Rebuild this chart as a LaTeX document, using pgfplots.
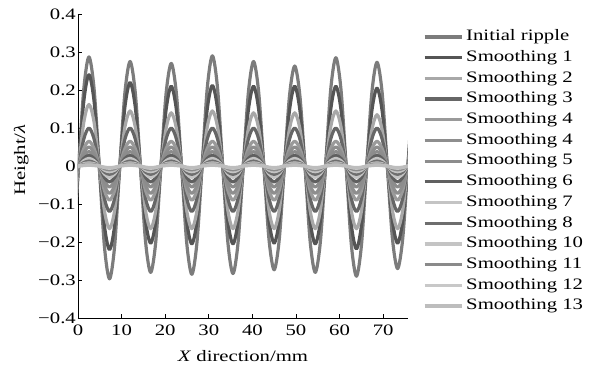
\documentclass[border=0pt]{standalone}
\usepackage{fontspec}
\setmainfont{Liberation Serif}[FakeStretch=1.3]
\usepackage{pgfplots}
\pgfplotsset{compat=1.18}
\usepackage{pgfplotstable}

\definecolor{c0}{HTML}{7C7C7C}
\definecolor{c1}{HTML}{555555}
\definecolor{c2}{HTML}{A8A8A8}
\definecolor{c3}{HTML}{666666}
\definecolor{c4}{HTML}{9A9A9A}
\definecolor{c5}{HTML}{8E8E8E}
\definecolor{c6}{HTML}{8C8C8C}
\definecolor{c7}{HTML}{606060}
\definecolor{c8}{HTML}{C4C4C4}
\definecolor{c9}{HTML}{6E6E6E}
\definecolor{c10}{HTML}{C4C4C4}
\definecolor{c11}{HTML}{8A8A8A}
\definecolor{c12}{HTML}{C8C8C8}
\definecolor{c13}{HTML}{BDBDBD}

\pgfplotstableread{
x s0 s1 s2 s3 s4 s5 s6 s7 s8 s9 s10 s11 s12 s13
-1.03 -0.210 -0.156 -0.117 -0.085 -0.064 -0.051 -0.039 -0.030 -0.021 -0.016 -0.011 -0.007 -0.004 -0.003
0.15 0 0 0 0 0 0 0 0 0 0 0 0 0 0
1.33 0.203 0.170 0.115 0.071 0.046 0.035 0.027 0.020 0.014 0.009 0.006 0.004 0.002 0.001
2.51 0.287 0.240 0.162 0.100 0.065 0.050 0.038 0.028 0.020 0.013 0.008 0.005 0.003 0.002
3.69 0.203 0.170 0.115 0.071 0.046 0.035 0.027 0.020 0.014 0.009 0.006 0.004 0.002 0.001
4.87 0 0 0 0 0 0 0 0 0 0 0 0 0 0
6.05 -0.210 -0.156 -0.117 -0.085 -0.064 -0.051 -0.039 -0.030 -0.021 -0.016 -0.011 -0.007 -0.004 -0.003
7.23 -0.297 -0.220 -0.165 -0.120 -0.090 -0.072 -0.055 -0.042 -0.030 -0.022 -0.015 -0.010 -0.006 -0.004
8.41 -0.210 -0.156 -0.117 -0.085 -0.064 -0.051 -0.039 -0.030 -0.021 -0.016 -0.011 -0.007 -0.004 -0.003
9.59 0 0 0 0 0 0 0 0 0 0 0 0 0 0
10.77 0.194 0.156 0.103 0.071 0.046 0.035 0.027 0.020 0.014 0.009 0.006 0.004 0.002 0.001
11.95 0.275 0.220 0.145 0.100 0.065 0.050 0.038 0.028 0.020 0.013 0.008 0.005 0.003 0.002
13.13 0.194 0.156 0.103 0.071 0.046 0.035 0.027 0.020 0.014 0.009 0.006 0.004 0.002 0.001
14.31 0 0 0 0 0 0 0 0 0 0 0 0 0 0
15.49 -0.198 -0.144 -0.117 -0.085 -0.064 -0.051 -0.039 -0.030 -0.021 -0.016 -0.011 -0.007 -0.004 -0.003
16.67 -0.280 -0.203 -0.165 -0.120 -0.090 -0.072 -0.055 -0.042 -0.030 -0.022 -0.015 -0.010 -0.006 -0.004
17.85 -0.198 -0.144 -0.117 -0.085 -0.064 -0.051 -0.039 -0.030 -0.021 -0.016 -0.011 -0.007 -0.004 -0.003
19.03 0 0 0 0 0 0 0 0 0 0 0 0 0 0
20.21 0.191 0.148 0.099 0.071 0.046 0.035 0.027 0.020 0.014 0.009 0.006 0.004 0.002 0.001
21.39 0.270 0.210 0.140 0.100 0.065 0.050 0.038 0.028 0.020 0.013 0.008 0.005 0.003 0.002
22.57 0.191 0.148 0.099 0.071 0.046 0.035 0.027 0.020 0.014 0.009 0.006 0.004 0.002 0.001
23.75 0 0 0 0 0 0 0 0 0 0 0 0 0 0
24.93 -0.201 -0.145 -0.117 -0.085 -0.064 -0.051 -0.039 -0.030 -0.021 -0.016 -0.011 -0.007 -0.004 -0.003
26.11 -0.285 -0.205 -0.165 -0.120 -0.090 -0.072 -0.055 -0.042 -0.030 -0.022 -0.015 -0.010 -0.006 -0.004
27.29 -0.201 -0.145 -0.117 -0.085 -0.064 -0.051 -0.039 -0.030 -0.021 -0.016 -0.011 -0.007 -0.004 -0.003
28.47 0 0 0 0 0 0 0 0 0 0 0 0 0 0
29.65 0.205 0.150 0.103 0.071 0.046 0.035 0.027 0.020 0.014 0.009 0.006 0.004 0.002 0.001
30.83 0.290 0.212 0.145 0.100 0.065 0.050 0.038 0.028 0.020 0.013 0.008 0.005 0.003 0.002
32.01 0.205 0.150 0.103 0.071 0.046 0.035 0.027 0.020 0.014 0.009 0.006 0.004 0.002 0.001
33.19 0 0 0 0 0 0 0 0 0 0 0 0 0 0
34.37 -0.200 -0.145 -0.117 -0.085 -0.064 -0.051 -0.039 -0.030 -0.021 -0.016 -0.011 -0.007 -0.004 -0.003
35.55 -0.283 -0.205 -0.165 -0.120 -0.090 -0.072 -0.055 -0.042 -0.030 -0.022 -0.015 -0.010 -0.006 -0.004
36.73 -0.200 -0.145 -0.117 -0.085 -0.064 -0.051 -0.039 -0.030 -0.021 -0.016 -0.011 -0.007 -0.004 -0.003
37.91 0 0 0 0 0 0 0 0 0 0 0 0 0 0
39.09 0.194 0.148 0.099 0.071 0.046 0.035 0.027 0.020 0.014 0.009 0.006 0.004 0.002 0.001
40.27 0.275 0.210 0.140 0.100 0.065 0.050 0.038 0.028 0.020 0.013 0.008 0.005 0.003 0.002
41.45 0.194 0.148 0.099 0.071 0.046 0.035 0.027 0.020 0.014 0.009 0.006 0.004 0.002 0.001
42.63 0 0 0 0 0 0 0 0 0 0 0 0 0 0
43.81 -0.193 -0.144 -0.117 -0.085 -0.064 -0.051 -0.039 -0.030 -0.021 -0.016 -0.011 -0.007 -0.004 -0.003
44.99 -0.273 -0.203 -0.165 -0.120 -0.090 -0.072 -0.055 -0.042 -0.030 -0.022 -0.015 -0.010 -0.006 -0.004
46.17 -0.193 -0.144 -0.117 -0.085 -0.064 -0.051 -0.039 -0.030 -0.021 -0.016 -0.011 -0.007 -0.004 -0.003
47.35 0 0 0 0 0 0 0 0 0 0 0 0 0 0
48.53 0.186 0.148 0.099 0.071 0.046 0.035 0.027 0.020 0.014 0.009 0.006 0.004 0.002 0.001
49.71 0.263 0.210 0.140 0.100 0.065 0.050 0.038 0.028 0.020 0.013 0.008 0.005 0.003 0.002
50.89 0.186 0.148 0.099 0.071 0.046 0.035 0.027 0.020 0.014 0.009 0.006 0.004 0.002 0.001
52.07 0 0 0 0 0 0 0 0 0 0 0 0 0 0
53.25 -0.198 -0.145 -0.117 -0.085 -0.064 -0.051 -0.039 -0.030 -0.021 -0.016 -0.011 -0.007 -0.004 -0.003
54.43 -0.280 -0.205 -0.165 -0.120 -0.090 -0.072 -0.055 -0.042 -0.030 -0.022 -0.015 -0.010 -0.006 -0.004
55.61 -0.198 -0.145 -0.117 -0.085 -0.064 -0.051 -0.039 -0.030 -0.021 -0.016 -0.011 -0.007 -0.004 -0.003
56.79 0 0 0 0 0 0 0 0 0 0 0 0 0 0
57.97 0.201 0.148 0.103 0.071 0.046 0.035 0.027 0.020 0.014 0.009 0.006 0.004 0.002 0.001
59.15 0.285 0.210 0.145 0.100 0.065 0.050 0.038 0.028 0.020 0.013 0.008 0.005 0.003 0.002
60.33 0.201 0.148 0.103 0.071 0.046 0.035 0.027 0.020 0.014 0.009 0.006 0.004 0.002 0.001
61.51 0 0 0 0 0 0 0 0 0 0 0 0 0 0
62.69 -0.205 -0.154 -0.117 -0.085 -0.064 -0.051 -0.039 -0.030 -0.021 -0.016 -0.011 -0.007 -0.004 -0.003
63.87 -0.290 -0.218 -0.165 -0.120 -0.090 -0.072 -0.055 -0.042 -0.030 -0.022 -0.015 -0.010 -0.006 -0.004
65.05 -0.205 -0.154 -0.117 -0.085 -0.064 -0.051 -0.039 -0.030 -0.021 -0.016 -0.011 -0.007 -0.004 -0.003
66.23 0 0 0 0 0 0 0 0 0 0 0 0 0 0
67.41 0.193 0.145 0.095 0.071 0.046 0.035 0.027 0.020 0.014 0.009 0.006 0.004 0.002 0.001
68.59 0.273 0.205 0.135 0.100 0.065 0.050 0.038 0.028 0.020 0.013 0.008 0.005 0.003 0.002
69.77 0.193 0.145 0.095 0.071 0.046 0.035 0.027 0.020 0.014 0.009 0.006 0.004 0.002 0.001
70.95 0 0 0 0 0 0 0 0 0 0 0 0 0 0
72.13 -0.191 -0.144 -0.117 -0.085 -0.064 -0.051 -0.039 -0.030 -0.021 -0.016 -0.011 -0.007 -0.004 -0.003
73.31 -0.270 -0.203 -0.165 -0.120 -0.090 -0.072 -0.055 -0.042 -0.030 -0.022 -0.015 -0.010 -0.006 -0.004
74.49 -0.191 -0.144 -0.117 -0.085 -0.064 -0.051 -0.039 -0.030 -0.021 -0.016 -0.011 -0.007 -0.004 -0.003
75.67 0 0 0 0 0 0 0 0 0 0 0 0 0 0
76.85 0.203 0.170 0.115 0.071 0.046 0.035 0.027 0.020 0.014 0.009 0.006 0.004 0.002 0.001
}\ripple

\begin{document}
\begin{tikzpicture}[font=\fontsize{16}{19}\selectfont]
\begin{axis}[
  scale only axis, width=330bp, height=304bp,
  xmin=0, xmax=75.7, ymin=-0.4, ymax=0.4,
  axis x line*=bottom, axis y line*=left,
  axis line style={line width=1pt, black},
  xtick={0,10,20,30,40,50,60,70},
  xticklabels={0,10,20,30,40,50,60,70},
  ytick={-0.4,-0.3,-0.2,-0.1,0,0.1,0.2,0.3,0.4},
  yticklabels={−0.4,−0.3,−0.2,−0.1,0,0.1,0.2,0.3,0.4},
  tick align=inside, major tick length=4bp,
  tick style={black, line width=0.8pt},
  yticklabel style={inner xsep=2bp, inner ysep=0pt},
  xticklabel style={inner sep=0.5bp, yshift=-5.8bp},
  xlabel={\textit{X} direction/mm},
  ylabel={Height/\textit{λ}},
  xlabel style={at={(axis description cs:0.5,-0.125)}, anchor=center},
  ylabel style={at={(axis description cs:-0.172,0.52)}, anchor=center},
  legend style={at={(axis description cs:1.045,0.949)}, anchor=north west,
    draw=none, fill=none, inner sep=0pt, row sep=6.2bp, column sep=3bp,
    nodes={inner sep=0pt, text height=11bp, text depth=3.5bp, anchor=west}},
  legend cell align=left,
  legend image code/.code={\draw[#1, line width=3.2pt] (0bp,0bp) -- (37bp,0bp);},
  every axis plot/.append style={line width=3.2pt, smooth, line join=round},
]
\addplot[c0]  table[x=x,y=s0]{\ripple};
\addplot[c1]  table[x=x,y=s1]{\ripple};
\addplot[c2]  table[x=x,y=s2]{\ripple};
\addplot[c3]  table[x=x,y=s3]{\ripple};
\addplot[c4]  table[x=x,y=s4]{\ripple};
\addplot[c5]  table[x=x,y=s5]{\ripple};
\addplot[c6]  table[x=x,y=s6]{\ripple};
\addplot[c7]  table[x=x,y=s7]{\ripple};
\addplot[c8]  table[x=x,y=s8]{\ripple};
\addplot[c9]  table[x=x,y=s9]{\ripple};
\addplot[c10] table[x=x,y=s10]{\ripple};
\addplot[c11] table[x=x,y=s11]{\ripple};
\addplot[c12] table[x=x,y=s12]{\ripple};
\addplot[c13] table[x=x,y=s13]{\ripple};
\legend{Initial ripple, Smoothing 1, Smoothing 2, Smoothing 3, Smoothing 4, Smoothing 4, Smoothing 5, Smoothing 6, Smoothing 7, Smoothing 8, Smoothing 10, Smoothing 11, Smoothing 12, Smoothing 13}
\end{axis}
\pgfresetboundingbox
\path[use as bounding box] ([xshift=-78bp,yshift=-54bp]current axis.south west) rectangle ([xshift=186bp,yshift=14bp]current axis.north east);
\end{tikzpicture}
\end{document}
